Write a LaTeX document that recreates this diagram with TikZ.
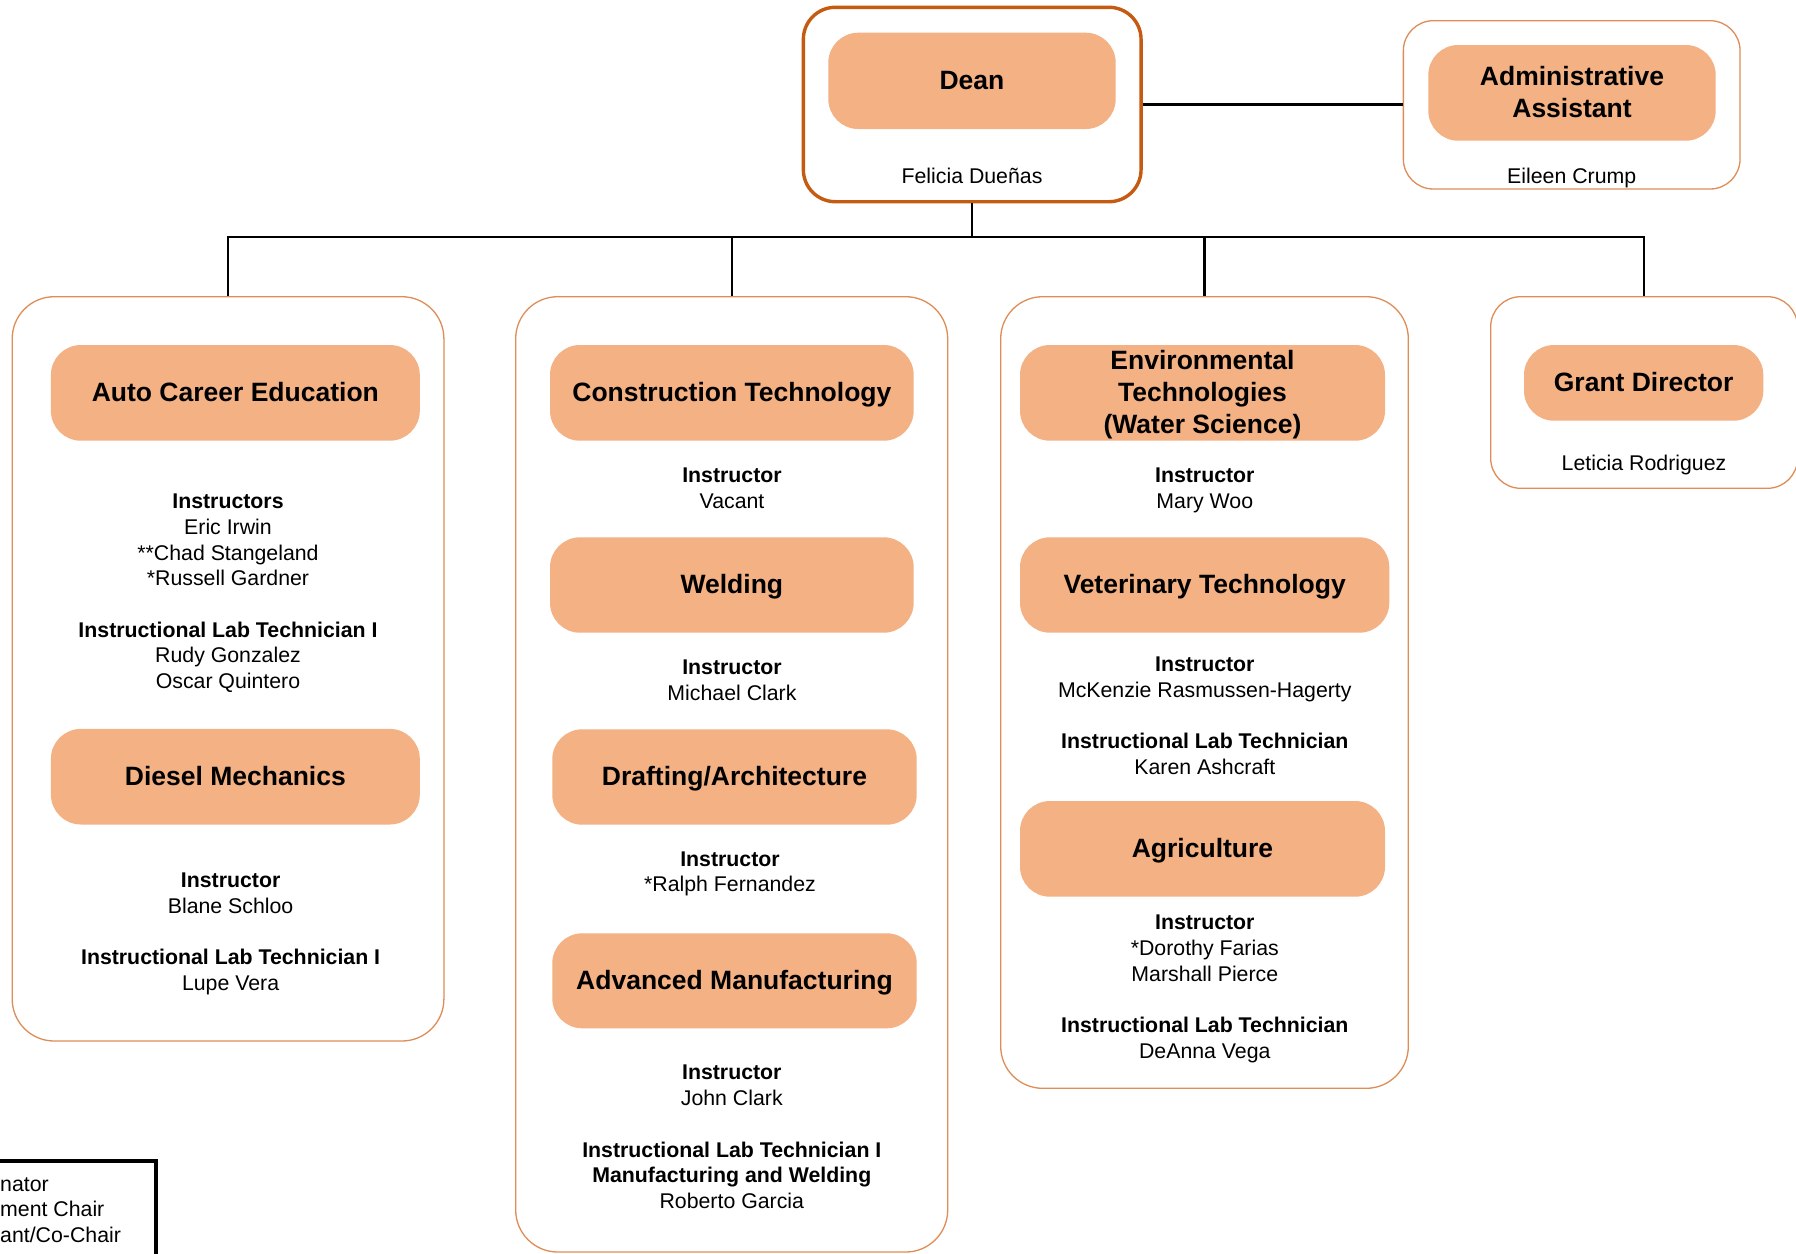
\documentclass[tikz,border=0pt]{standalone}
\usepackage{fontspec}
\setmainfont{Liberation Sans}
\definecolor{pillfill}{HTML}{F4B183}
\definecolor{deanline}{HTML}{C55A11}
\definecolor{boxline}{HTML}{DE8D57}
\newcommand\bodyfont{\fontsize{21.3pt}{25.7pt}\selectfont}
\newcommand\pillfont{\fontsize{26.5pt}{32pt}\selectfont\bfseries}
\newcommand\stackrows[1]{\begin{tabular}[t]{@{}c@{}}#1\end{tabular}}
\tikzset{
  unitbox/.style={draw=boxline, line width=1.3pt, inner sep=0pt, fill=white},
  colbox/.style={unitbox, rounded corners=42pt},
  topbox/.style={unitbox, rounded corners=30pt},
  deanbox/.style={draw=deanline, line width=3.4pt, inner sep=0pt, fill=white, rounded corners=32pt},
  pill/.style={fill=pillfill, rounded corners=30pt, inner sep=0pt, font=\pillfont, text height=19pt, text depth=2pt},
  body/.style={anchor=base, inner sep=0pt, font=\bodyfont},
  legtext/.style={anchor=base west, inner sep=0pt, font=\bodyfont},
  link/.style={line width=2.2pt, black},
}
\begin{document}
\begin{tikzpicture}[x=1pt,y=-1pt]
\useasboundingbox (0,0) rectangle (1796,1253);
\clip (0,0) rectangle (1796,1253);
\fill[white] (0,0) rectangle (1796,1253);

% outer boxes
\node[deanbox, minimum width=337.7pt, minimum height=194.4pt] (dean) at (972.2,104.5) {};
\node[topbox, minimum width=336.7pt, minimum height=168.3pt] (admin) at (1571.7,104.85) {};
\node[colbox, minimum width=431.7pt, minimum height=744.3pt] (colA) at (228.05,668.85) {};
\node[colbox, minimum width=432pt, minimum height=955.3pt] (colB) at (731.7,774.35) {};
\node[colbox, minimum width=407.6pt, minimum height=791.6pt] (colC) at (1204.5,692.5) {};
\node[topbox, minimum width=306.8pt, minimum height=191.6pt] (colD) at (1644.1,392.5) {};

% pills
\node[pill, minimum width=287.4pt, minimum height=96.3pt] (deanP) at (972,80.85) {Dean};
\node[pill, minimum width=287.4pt, minimum height=95.7pt, text depth=34pt] (adminP) at (1572,92.85) {\stackrows{Administrative\\Assistant}};
\node[pill, minimum width=368.9pt, minimum height=95.7pt] (autoP) at (235.35,392.85) {Auto Career Education};
\node[pill, minimum width=368.9pt, minimum height=95.6pt] (dieselP) at (235.35,776.7) {Diesel Mechanics};
\node[pill, minimum width=363.7pt, minimum height=95.7pt] (constrP) at (731.85,392.85) {Construction Technology};
\node[pill, minimum width=363.7pt, minimum height=95.4pt] (weldP) at (731.85,585) {Welding};
\node[pill, minimum width=364.4pt, minimum height=95.4pt] (draftP) at (734.5,777) {Drafting/Architecture};
\node[pill, minimum width=364.4pt, minimum height=95pt] (advP) at (734.5,980.8) {Advanced Manufacturing};
\node[pill, minimum width=365pt, minimum height=95.7pt, text depth=66pt] (envP) at (1202.5,392.85) {\stackrows{Environmental\\Technologies\\(Water Science)}};
\node[pill, minimum width=369.3pt, minimum height=95.4pt] (vetP) at (1204.65,585) {Veterinary Technology};
\node[pill, minimum width=365pt, minimum height=95.7pt] (agriP) at (1202.5,848.85) {Agriculture};
\node[pill, minimum width=239.3pt, minimum height=75.7pt] (grantP) at (1643.65,382.85) {Grant Director};

% names
\node[body] (deanName) at (972,183.6) {Felicia Dueñas};
\node[body] (adminName) at (1571.7,183.4) {Eileen Crump};
\node[body] (grantName) at (1644,470.9) {Leticia Rodriguez};

\node[body] (aText1) at (228,508.6) {\stackrows{\textbf{Instructors}\\Eric Irwin\\{}**Chad Stangeland\\{}*Russell Gardner\\ \\\textbf{Instructional Lab Technician I}\\Rudy Gonzalez\\Oscar Quintero}};
\node[body] (aText2) at (230.6,887.5) {\stackrows{\textbf{Instructor}\\Blane Schloo\\ \\\textbf{Instructional Lab Technician I}\\Lupe Vera}};

\node[body] (bText1) at (732,482.6) {\stackrows{\textbf{Instructor}\\Vacant}};
\node[body] (bText2) at (732,674.6) {\stackrows{\textbf{Instructor}\\Michael Clark}};
\node[body] (bText3) at (730,866) {\stackrows{\textbf{Instructor}\\{}*Ralph Fernandez}};
\node[body] (bText4) at (731.8,1079.9) {\stackrows{\textbf{Instructor}\\John Clark\\ \\\textbf{Instructional Lab Technician I}\\\textbf{Manufacturing and Welding}\\Roberto Garcia}};

\node[body] (cText1) at (1204.8,482.6) {\stackrows{\textbf{Instructor}\\Mary Woo}};
\node[body] (cText2) at (1204.8,671.6) {\stackrows{\textbf{Instructor}\\McKenzie Rasmussen-Hagerty\\ \\\textbf{Instructional Lab Technician}\\Karen Ashcraft}};
\node[body] (cText3) at (1204.8,929.9) {\stackrows{\textbf{Instructor}\\{}*Dorothy Farias\\Marshall Pierce\\ \\\textbf{Instructional Lab Technician}\\DeAnna Vega}};

% legend
\node[draw=black, line width=4pt, inner sep=0pt, minimum width=185.5pt, minimum height=129.5pt] (legend) at (62.75,1225.25) {};
\node[legtext] (leg1) at (0,1191) {nator};
\node[legtext] (leg2) at (0,1216.6) {ment Chair};
\node[legtext] (leg3) at (0,1242.2) {ant/Co-Chair};

% connectors
\coordinate (bus) at (972.2,236.7);
\draw[link] (dean.south) -- (bus);
\draw[link] (colA.north) |- (bus) -| (colD.north);
\draw[link] (colB.north) -- (colB.north |- bus);
\draw[link] (colC.north) -- (colC.north |- bus);
\draw[link] (dean.east) -- (dean.east -| admin.west);
\end{tikzpicture}
\end{document}
